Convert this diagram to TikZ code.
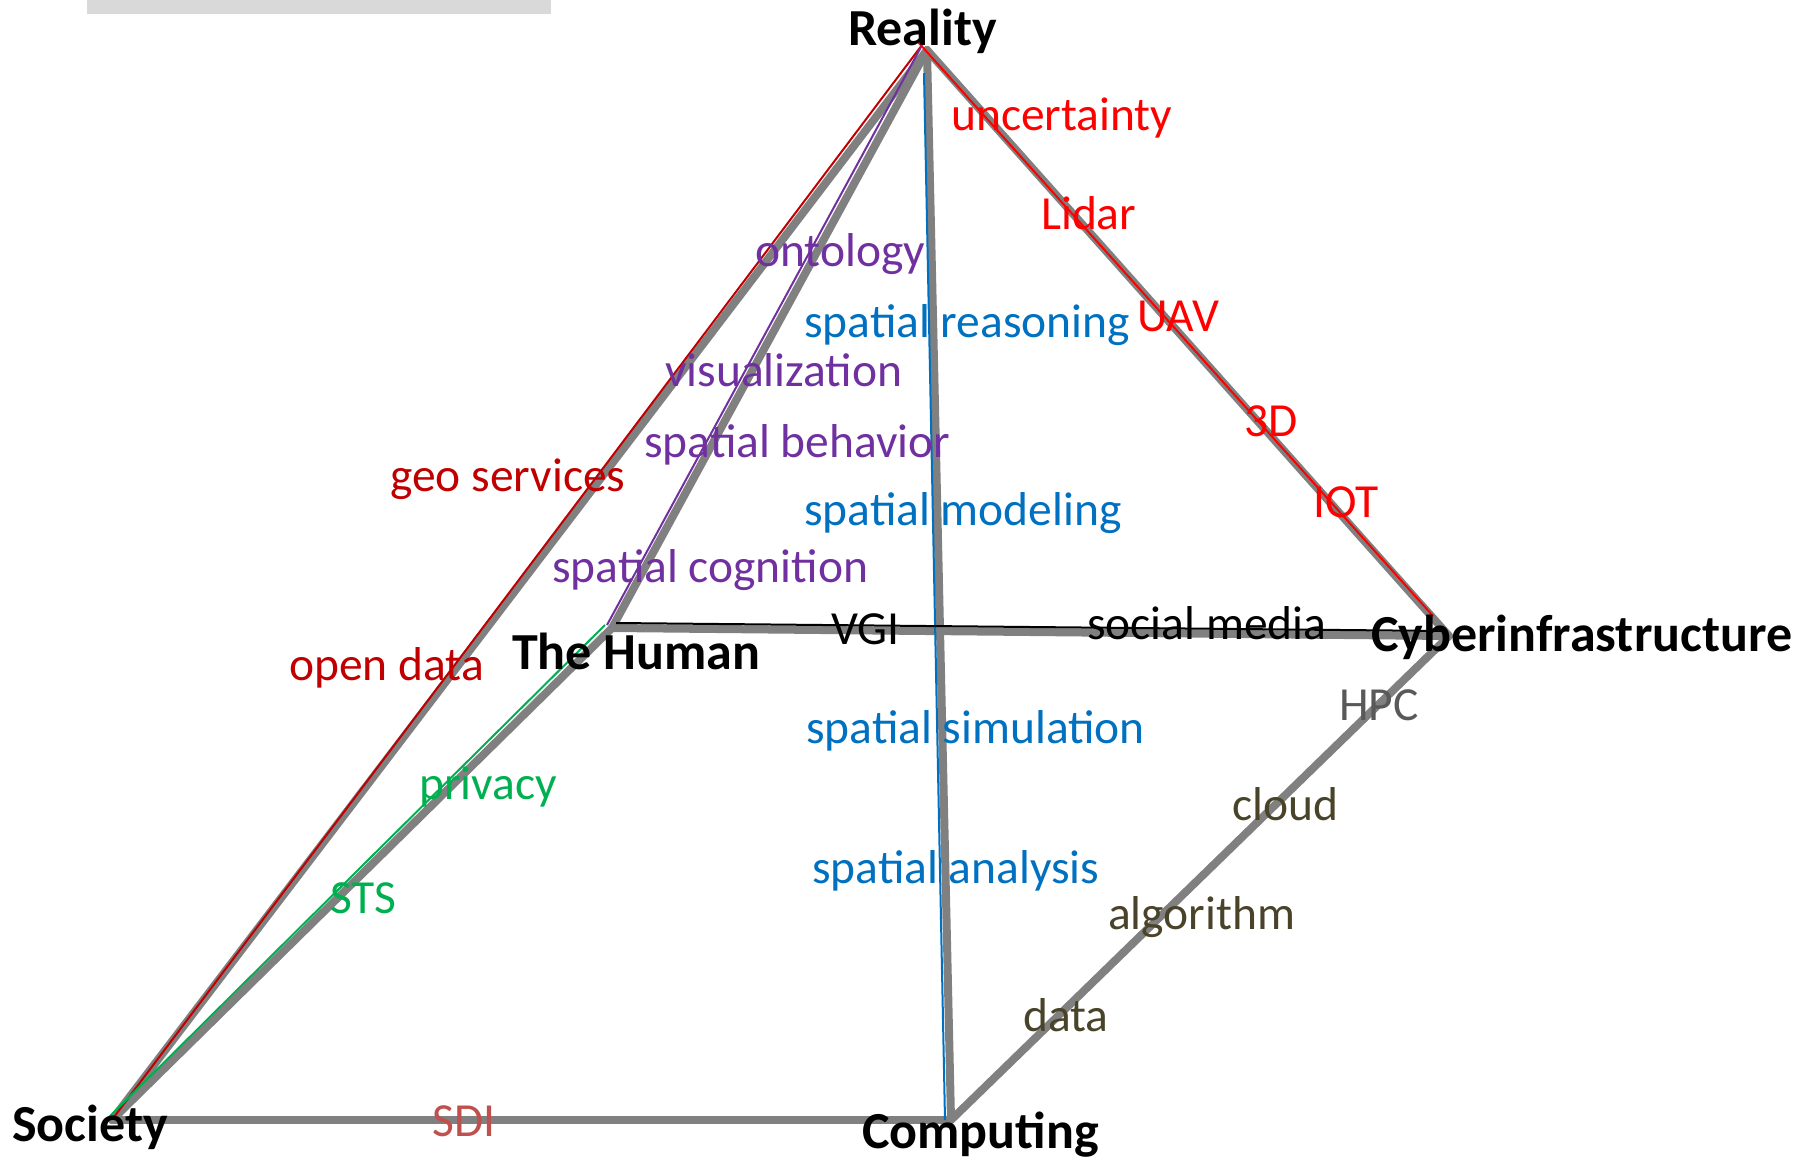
\documentclass[tikz,border=0pt]{standalone}
\usepackage{fontspec}
\setmainfont{Carlito}
\definecolor{edgegray}{HTML}{808080}
\definecolor{barcol}{HTML}{D9D9D9}
\definecolor{dkred}{HTML}{C00000}
\definecolor{brred}{HTML}{FF0000}
\definecolor{purp}{HTML}{7030A0}
\definecolor{blu}{HTML}{0070C0}
\definecolor{grn}{HTML}{00B050}
\definecolor{hpcgray}{HTML}{595959}
\definecolor{olive}{HTML}{494429}
\definecolor{sdicol}{HTML}{C0504D}
\begin{document}
\begin{tikzpicture}[x=1pt,y=-1pt,
  lbl/.style={anchor=base west, inner sep=0pt, font=\fontsize{47.5}{57}\selectfont},
  vtx/.style={anchor=base west, inner sep=0pt, font=\fontsize{52}{62}\selectfont\bfseries},
  edge/.style={draw=edgegray, line width=8pt, line cap=round, line join=round},
  thinline/.style={line width=2pt}]
\useasboundingbox (0,0) rectangle (1814,1159);
\fill[barcol] (87,0) rectangle (551,14);
% vertices
\coordinate (R) at (927,50);
\coordinate (H) at (612,628);
\coordinate (Y) at (1449,636);
\coordinate (S) at (112,1120);
\coordinate (P) at (951,1120);
% thin line ends
\coordinate (Rr) at (918,42);
\coordinate (Rl) at (922,45);
\coordinate (Rp) at (921,47);
\coordinate (Rb) at (924,73);
\coordinate (Hp) at (607,625);
\coordinate (Hg) at (605,625);
\coordinate (Hk) at (616,623);
\coordinate (Sr) at (114,1117);
\coordinate (Sg) at (110,1116);
\coordinate (Pb) at (945,1120);
\coordinate (Yr) at (1433,616);
\coordinate (Yk) at (1445,631);
% gray edges
\draw[edge] (R) -- (S);
\draw[edge] (R) -- (H);
\draw[edge] (R) -- (P);
\draw[edge] (R) -- (Y);
\draw[edge] (H) -- (Y);
\draw[edge] (S) -- (H);
\draw[edge] (S) -- (P);
\draw[edge] (P) -- (Y);
% thin coloured lines
\draw[thinline, dkred] (Rl) -- (Sr);
\draw[thinline, brred] (Rr) -- (Yr);
\draw[thinline, purp] (Rp) -- (Hp);
\draw[thinline, blu] (Rb) -- (Pb);
\draw[thinline, grn] (Hg) -- (Sg);
\draw[thinline, black] (Hk) -- (Yk);
% vertex labels
\node[vtx] (lR) at (848,45) {Reality};
\node[vtx] (lH) at (512,669) {The Human};
\node[vtx] (lY) at (1371,651) {Cyberinfrastructure};
\node[vtx] (lS) at (12,1141) {Society};
\node[vtx] (lP) at (862,1148) {Computing};
% red labels
\node[lbl, brred] (t1) at (951,130) {uncertainty};
\node[lbl, brred] (t2) at (1041,229) {Lidar};
\node[lbl, brred] (t3) at (1137,331) {UAV};
\node[lbl, brred] (t4) at (1244,436) {3D};
\node[lbl, brred] (t5) at (1313,517) {IOT};
% purple
\node[lbl, purp] (t6) at (755,266) {ontology};
\node[lbl, purp] (t7) at (665,386) {visualization};
\node[lbl, purp] (t8) at (644,457) {spatial behavior};
\node[lbl, purp] (t9) at (552,582) {spatial cognition};
% blue
\node[lbl, blu] (t10) at (804,337) {spatial reasoning};
\node[lbl, blu] (t11) at (804,525) {spatial modeling};
\node[lbl, blu] (t12) at (806,743) {spatial simulation};
\node[lbl, blu] (t13) at (812,883) {spatial analysis};
% dark red
\node[lbl, dkred] (t14) at (390,491) {geo services};
\node[lbl, dkred] (t15) at (289,680) {open data};
% black
\node[lbl, black] (t16) at (831,644) {VGI};
\node[lbl, black] (t17) at (1087,639) {social media};
% green
\node[lbl, grn] (t18) at (419,799) {privacy};
\node[lbl, grn] (t19) at (330,913) {STS};
% gray / olive
\node[lbl, hpcgray] (t20) at (1339,720) {HPC};
\node[lbl, olive] (t21) at (1232,820) {cloud};
\node[lbl, olive] (t22) at (1108,929) {algorithm};
\node[lbl, olive] (t23) at (1023,1031) {data};
\node[lbl, sdicol] (t24) at (432,1136) {SDI};
\end{tikzpicture}
\end{document}
